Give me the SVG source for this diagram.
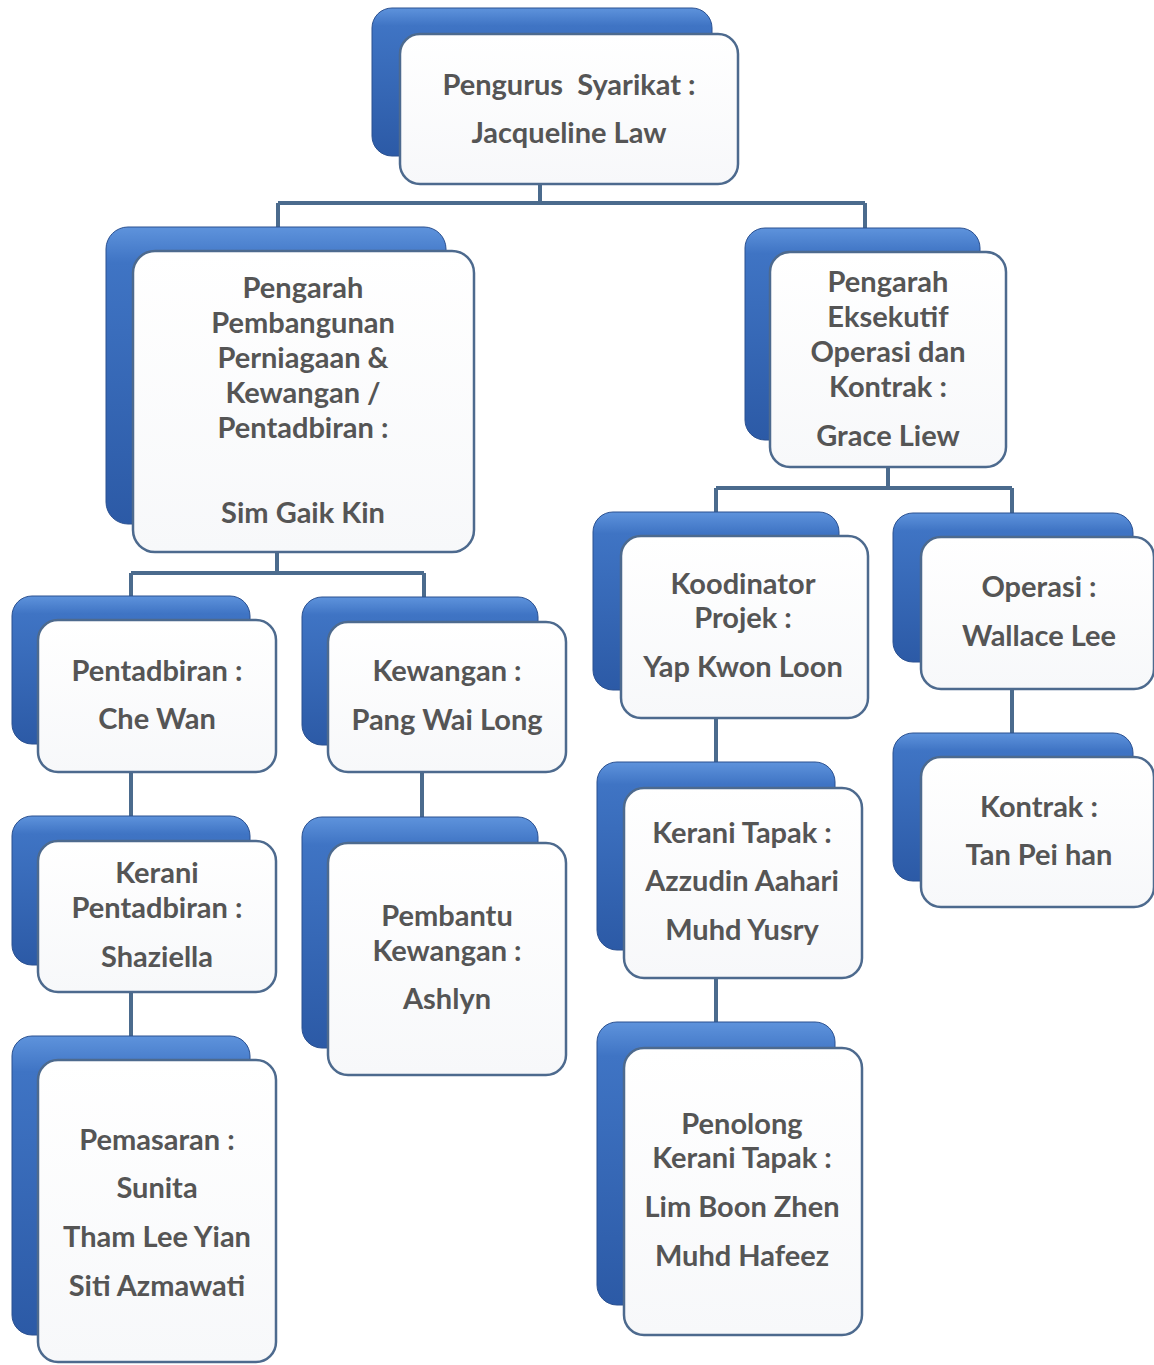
<svg xmlns="http://www.w3.org/2000/svg" width="1154" height="1365" viewBox="0 0 1154 1365">
<defs>
<linearGradient id="bg" x1="0" y1="0" x2="0" y2="1">
<stop offset="0" stop-color="#5e93dc"/>
<stop offset="0.12" stop-color="#3f74c4"/>
<stop offset="1" stop-color="#2c5aa6"/>
</linearGradient>
<linearGradient id="fg" x1="0" y1="0" x2="0" y2="1">
<stop offset="0" stop-color="#ffffff"/>
<stop offset="1" stop-color="#f7f8fa"/>
</linearGradient>
</defs>
<style>
.back{fill:url(#bg);stroke:#2a5090;stroke-width:1}
.front{fill:url(#fg);stroke:#4d6a8e;stroke-width:2.5}
.conn{fill:none;stroke:#4b6b8d;stroke-width:4}
text{font-family:Lato,"Open Sans","Liberation Sans",sans-serif;font-weight:bold;font-size:29px;fill:#555555;text-anchor:middle;white-space:pre}
</style>
<rect width="1154" height="1365" fill="#ffffff"/>
<g id="connectors">
<path class="conn" d="M540,184 V203 M278,203 H865 M278,203 V228 M865,203 V230"/>
<path class="conn" d="M277,552 V573 M131,573 H424 M131,573 V598 M424,573 V599"/>
<path class="conn" d="M888,466 V488 M716,488 H1012 M716,488 V513 M1012,488 V513"/>
<path class="conn" d="M131,772 V817 M131,992 V1037 M422,772 V818 M716,718 V763 M716,978 V1023 M1012,690 V734"/>
</g>
<g id="n1">
<rect class="back" x="372" y="8" width="340" height="148" rx="20"/>
<rect class="front" x="400" y="34" width="338" height="150" rx="20"/>
<text x="569" y="95">Pengurus  Syarikat :</text>
<text x="569" y="143">Jacqueline Law</text>
</g>
<g id="n2">
<rect class="back" x="106" y="227" width="340" height="297" rx="22"/>
<rect class="front" x="133" y="251" width="341" height="301" rx="22"/>
<text x="303" y="298">Pengarah</text>
<text x="303" y="333">Pembangunan</text>
<text x="303" y="368">Perniagaan &amp;</text>
<text x="303" y="403">Kewangan /</text>
<text x="303" y="438">Pentadbiran :</text>
<text x="303" y="523">Sim Gaik Kin</text>
</g>
<g id="n3">
<rect class="back" x="745" y="228" width="235" height="212" rx="20"/>
<rect class="front" x="770" y="252" width="236" height="215" rx="20"/>
<text x="888" y="292">Pengarah</text>
<text x="888" y="327">Eksekutif</text>
<text x="888" y="362">Operasi dan</text>
<text x="888" y="397">Kontrak :</text>
<text x="888" y="446">Grace Liew</text>
</g>
<g id="n4">
<rect class="back" x="12" y="596" width="238" height="148" rx="20"/>
<rect class="front" x="38" y="620" width="238" height="152" rx="20"/>
<text x="157" y="681">Pentadbiran :</text>
<text x="157" y="729">Che Wan</text>
</g>
<g id="n5">
<rect class="back" x="302" y="597" width="236" height="148" rx="20"/>
<rect class="front" x="328" y="622" width="238" height="150" rx="20"/>
<text x="447" y="681">Kewangan :</text>
<text x="447" y="730">Pang Wai Long</text>
</g>
<g id="n6">
<rect class="back" x="12" y="816" width="238" height="149" rx="20"/>
<rect class="front" x="38" y="841" width="238" height="151" rx="20"/>
<text x="157" y="883">Kerani</text>
<text x="157" y="918">Pentadbiran :</text>
<text x="157" y="967">Shaziella</text>
</g>
<g id="n7">
<rect class="back" x="302" y="817" width="236" height="231" rx="20"/>
<rect class="front" x="328" y="843" width="238" height="232" rx="20"/>
<text x="447" y="926">Pembantu</text>
<text x="447" y="961">Kewangan :</text>
<text x="447" y="1009">Ashlyn</text>
</g>
<g id="n8">
<rect class="back" x="12" y="1036" width="238" height="299" rx="20"/>
<rect class="front" x="38" y="1060" width="238" height="302" rx="20"/>
<text x="157" y="1150">Pemasaran :</text>
<text x="157" y="1198">Sunita</text>
<text x="157" y="1247">Tham Lee Yian</text>
<text x="157" y="1296">Siti Azmawati</text>
</g>
<g id="n9">
<rect class="back" x="593" y="512" width="246" height="178" rx="20"/>
<rect class="front" x="621" y="536" width="247" height="182" rx="20"/>
<text x="743" y="594">Koodinator</text>
<text x="743" y="628">Projek :</text>
<text x="743" y="677">Yap Kwon Loon</text>
</g>
<g id="n10">
<rect class="back" x="893" y="513" width="240" height="149" rx="20"/>
<rect class="front" x="921" y="537" width="233" height="152" rx="20"/>
<text x="1039" y="597">Operasi :</text>
<text x="1039" y="646">Wallace Lee</text>
</g>
<g id="n11">
<rect class="back" x="597" y="762" width="238" height="188" rx="20"/>
<rect class="front" x="624" y="788" width="238" height="190" rx="20"/>
<text x="742" y="843">Kerani Tapak :</text>
<text x="742" y="891">Azzudin Aahari</text>
<text x="742" y="940">Muhd Yusry</text>
</g>
<g id="n12">
<rect class="back" x="893" y="733" width="240" height="148" rx="20"/>
<rect class="front" x="921" y="757" width="233" height="150" rx="20"/>
<text x="1039" y="817">Kontrak :</text>
<text x="1039" y="865">Tan Pei han</text>
</g>
<g id="n13">
<rect class="back" x="597" y="1022" width="238" height="283" rx="20"/>
<rect class="front" x="624" y="1048" width="238" height="287" rx="20"/>
<text x="742" y="1134">Penolong</text>
<text x="742" y="1168">Kerani Tapak :</text>
<text x="742" y="1217">Lim Boon Zhen</text>
<text x="742" y="1266">Muhd Hafeez</text>
</g>
</svg>
